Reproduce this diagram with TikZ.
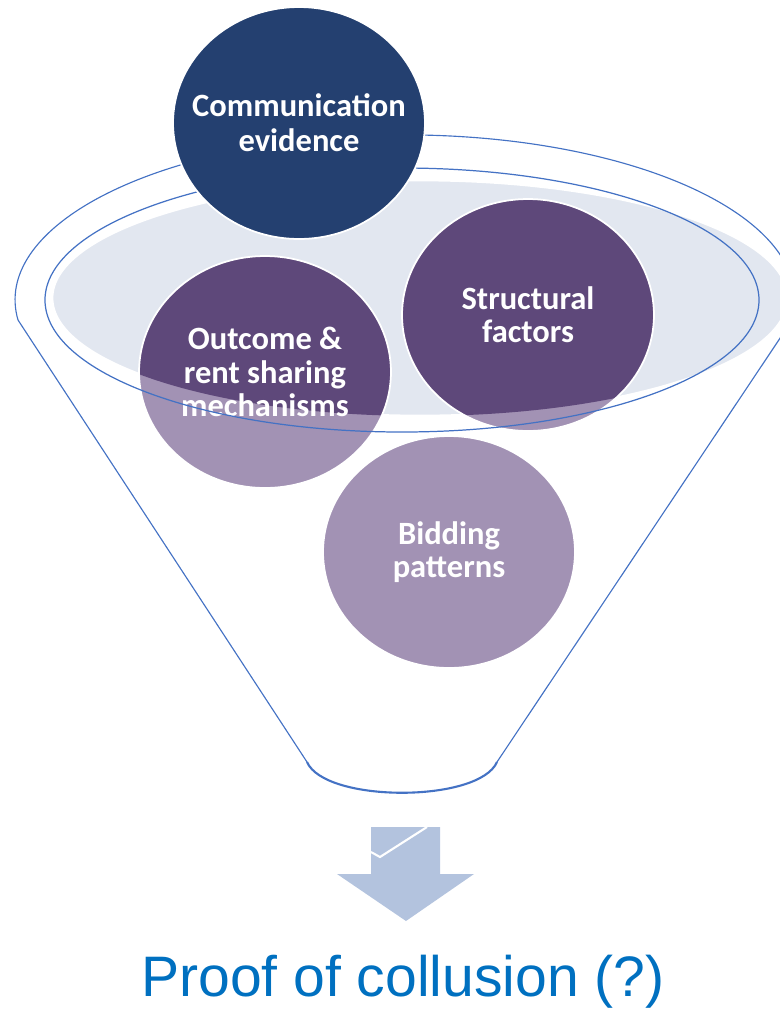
\documentclass[tikz,border=0pt]{standalone}
\usepackage{fontspec}
\setsansfont{Carlito}
\newfontfamily\collusionfont{Liberation Sans}
\definecolor{funnelblue}{RGB}{68,114,196}
\definecolor{funnelnavy}{RGB}{36,64,112}
\definecolor{funnelpurple}{RGB}{94,72,122}
\definecolor{funnellilac}{RGB}{162,146,180}
\definecolor{funnelbowl}{RGB}{226,231,240}
\definecolor{funnelarrow}{RGB}{179,195,222}
\definecolor{funneltext}{RGB}{0,112,192}
\usetikzlibrary{shapes.geometric}

\begin{document}
\begin{tikzpicture}[
  x=0.02cm, y=-0.02cm,
  ball/.style={ellipse, draw=white, line width=1pt, inner xsep=-0.5cm, inner ysep=0pt, minimum width=5.04cm, minimum height=4.64cm, align=center, text=white, font=\sffamily\bfseries\fontsize{18.5}{19}\selectfont},
  sunk/.style={ball, fill=funnellilac, path picture={\fill[funnelpurple] (bowl.center) ellipse [x radius=7.36cm, y radius=2.36cm];}},
  rim/.style={draw=funnelblue, line width=0.7pt}
]
\useasboundingbox (0,0) rectangle (780,1009);
\clip (0,0) rectangle (780,1009);

% Bowl surface
\node[ellipse, fill=funnelbowl, draw=white, line width=1.5pt, inner sep=0pt, minimum width=14.72cm, minimum height=4.72cm] (bowl) at (420,298) {};

% Balls inside the funnel
\node[sunk] (outcome) at (265,372) {Outcome \&\\rent sharing\\mechanisms};
\node[sunk] (structural) at (528,315) {Structural\\factors};
\node[ball, fill=funnellilac] (bidding) at (449,552) {Bidding\\patterns};

% Funnel outline
\draw[rim] (402,300) ellipse [x radius=357, y radius=132];
\draw[rim, line width=0.65pt] (18,320) arc [start angle=173, end angle=367, x radius=390, y radius=165] -- (497,762);
\draw[rim, line width=0.65pt] (307,762) -- (18,320);
\draw[rim, line width=1.2pt] (497,762) .. controls (479,803) and (325,803) .. (307,762);

% Ball on top
\node[ball, fill=funnelnavy, font=\sffamily\bfseries\fontsize{18.5}{20}\selectfont] (communication) at (299,123) {Communication\\evidence};

% Down arrow
\fill[funnelarrow] (371,827) -- (440,827) -- (440,874) -- (474,874) -- (406,921) -- (337,874) -- (371,874) -- cycle;
\draw[white, line width=1.2pt] (371,852) -- (380,857) -- (427,827);

\node[anchor=base, text=funneltext, font=\collusionfont\fontsize{32.5}{38}\selectfont] (proof) at (403,996) {Proof of collusion (?)};
\end{tikzpicture}
\end{document}
